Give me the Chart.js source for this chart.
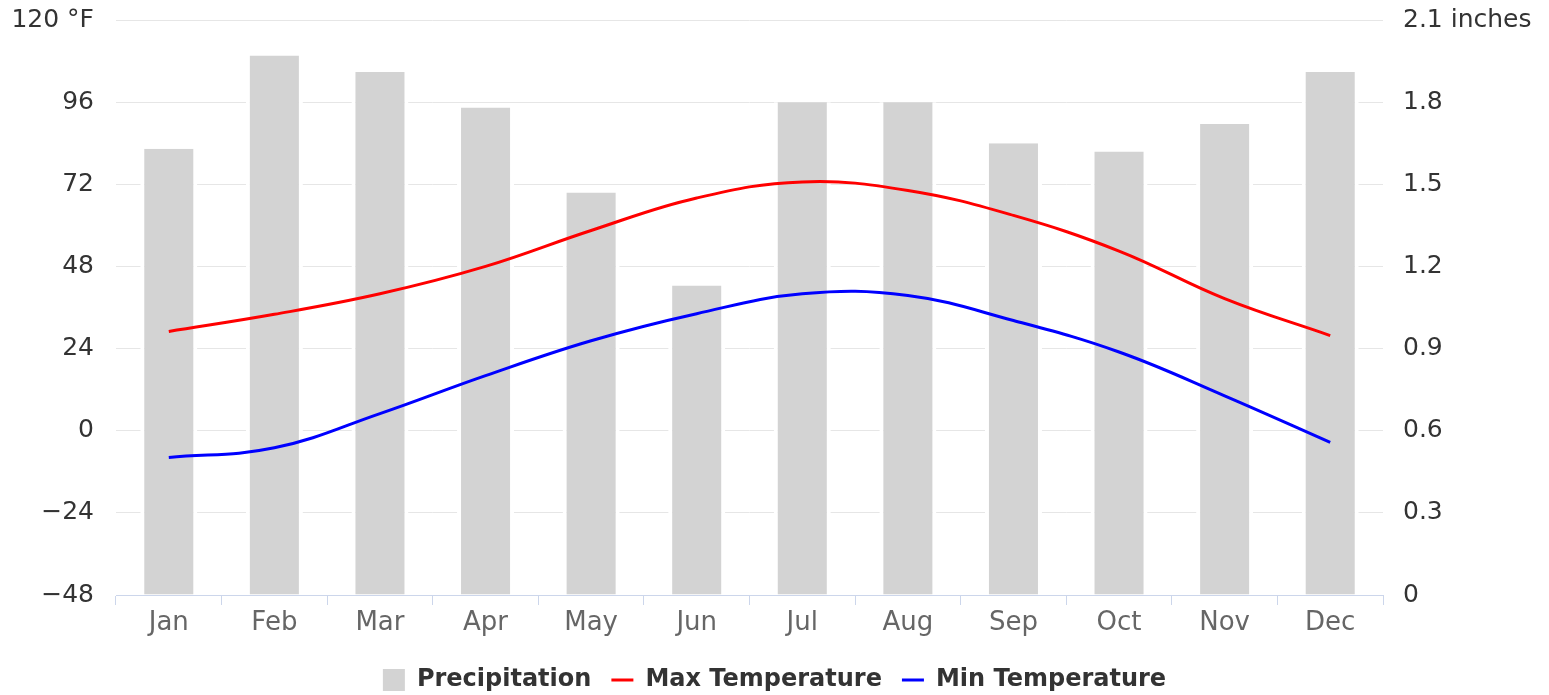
<!DOCTYPE html>
<html>
<head>
<meta charset="utf-8">
<script src="https://cdn.jsdelivr.net/npm/chart.js@4"></script>
<style>
  html, body { margin: 0; padding: 0; background: #fff; }
  #wrap { width: 1549px; height: 695px; }
</style>
</head>
<body>
<div id="wrap"><canvas id="climate-chart"></canvas></div>
<script>
var months = ["Jan", "Feb", "Mar", "Apr", "May", "Jun", "Jul", "Aug", "Sep", "Oct", "Nov", "Dec"];
var precipitation = [1.63, 1.97, 1.91, 1.78, 1.47, 1.13, 1.80, 1.80, 1.65, 1.62, 1.72, 1.91];
var maxTemp = [29, 34, 40, 48, 58.5, 68, 72.7, 70.2, 62.9, 52.5, 38.6, 27.8];
var minTemp = [-7.8, -5, 5, 16.1, 26.3, 34.2, 40, 39.5, 32.2, 23, 10.2, -3.4];

var font = "'DejaVu Sans', Verdana, sans-serif";

function noEdgePadding(s) {
  s.paddingTop = 0;
  s.paddingBottom = 0;
}

new Chart(document.getElementById("climate-chart"), {
  type: 'bar',
  data: {
    labels: months,
    datasets: [
      {
        type: 'bar',
        label: "Precipitation",
        data: precipitation,
        yAxisID: 'yRain',
        backgroundColor: "#d3d3d3",
        borderColor: "#ffffff",
        borderWidth: {left: 4, right: 4, top: 0, bottom: 0},
        borderSkipped: false,
        barPercentage: 0.54,
        categoryPercentage: 1,
        pointStyle: 'rect',
        order: 2
      }, {
        type: 'line',
        label: "Max Temperature",
        data: maxTemp,
        yAxisID: 'yTemp',
        borderColor: "#ff0000",
        backgroundColor: "#ff0000",
        borderWidth: 3,
        pointRadius: 0,
        tension: 0.4,
        pointStyle: 'line',
        order: 1
      }, {
        type: 'line',
        label: "Min Temperature",
        data: minTemp,
        yAxisID: 'yTemp',
        borderColor: "#0000ff",
        backgroundColor: "#0000ff",
        borderWidth: 3,
        pointRadius: 0,
        tension: 0.4,
        pointStyle: 'line',
        order: 1
      }
    ]
  },
  options: {
    responsive: true,
    maintainAspectRatio: false,
    animation: false,
    layout: { padding: { top: 20, left: 0, right: 0, bottom: -7 } },
    plugins: {
      title: { display: false },
      tooltip: { enabled: false },
      legend: {
        position: 'bottom',
        labels: {
          usePointStyle: true,
          pointStyleWidth: 22,
          boxHeight: 22,
          padding: 20,
          color: "#333333",
          font: { family: font, size: 24, weight: 'bold' },
          sort: function(a, b) { return a.datasetIndex - b.datasetIndex; },
          generateLabels: function(chart) {
            var items = Chart.defaults.plugins.legend.labels.generateLabels(chart);
            items.forEach(function(it) {
              if (it.datasetIndex === 0) {
                it.lineWidth = 0;
                it.strokeStyle = "#d3d3d3";
              } else {
                it.lineWidth = 3;
              }
            });
            return items;
          }
        }
      }
    },
    scales: {
      x: {
        offset: true,
        afterFit: function(s) { s.height = 53; },
        grid: { display: true, drawOnChartArea: false, offset: true, color: "#ccd6eb", tickLength: 10 },
        border: { display: true, color: "#ccd6eb", width: 1 },
        ticks: { color: "#666666", padding: 3, font: { family: font, size: 26 } }
      },
      yTemp: {
        position: 'left',
        min: -48,
        max: 120,
        afterFit: function(s) { s.width = 116; noEdgePadding(s); },
        grid: { color: "#e6e6e6", drawTicks: false },
        border: { display: false },
        ticks: {
          stepSize: 24,
          padding: 22,
          color: "#333333",
          font: { family: font, size: 25 },
          callback: function(v) {
            var t = v < 0 ? "\u2212" + Math.abs(v) : String(v);
            return v === 120 ? t + " °F" : t;
          }
        }
      },
      yRain: {
        position: 'right',
        min: 0,
        max: 2.1,
        afterFit: function(s) { s.width = 166; noEdgePadding(s); },
        grid: { drawOnChartArea: false, drawTicks: false },
        border: { display: false },
        ticks: {
          stepSize: 0.3,
          padding: 20,
          color: "#333333",
          font: { family: font, size: 25 },
          callback: function(v) {
            var t = Math.round(v * 10) / 10;
            return t === 2.1 ? "2.1 inches" : String(t);
          }
        }
      }
    }
  }
});
</script>
</body>
</html>
